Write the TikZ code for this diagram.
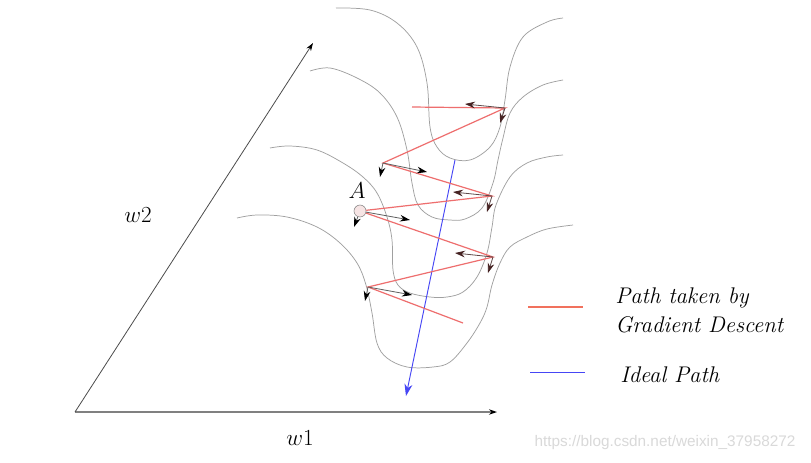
\documentclass[tikz,border=0pt]{standalone}
\usepackage{amsmath}
\usepackage{fontspec}
\newfontfamily\urlfont{Liberation Sans}
\usepackage{tikz}
\usetikzlibrary{arrows.meta}

\definecolor{levelgray}{RGB}{160,160,160}
\definecolor{gdred}{RGB}{238,110,110}
\definecolor{idealblue}{RGB}{70,70,245}
\definecolor{tipbrown}{RGB}{70,35,35}
\definecolor{pointpink}{RGB}{246,228,228}

\begin{document}
\begin{tikzpicture}[x=0.75pt,y=0.75pt,yscale=-1,xscale=1,
  levelcurve/.style={draw=levelgray, line width=0.55pt},
  gdpath/.style={draw=gdred, line width=0.9pt},
  idealpath/.style={draw=idealblue, line width=0.7pt},
  gradarr/.style={draw=gray!75!black, line width=0.6pt, -{Stealth[length=7.5pt,width=5pt,color=black]}},
  gradarrb/.style={draw=tipbrown!60!gray, line width=0.6pt, -{Stealth[length=7.5pt,width=5pt,color=tipbrown]}},
  lbl/.style={inner sep=0.75pt, font=\fontsize{17}{20}\selectfont\itshape}
]
%set diagram size
\path[fill=white] (0,0) rectangle (811,462);

%Axes
\coordinate (O) at (75,412);
\coordinate (w1end) at (497,412);
\coordinate (w2end) at (313,43);
\draw [draw=gray, line width=1pt, -{Stealth[length=6pt,width=4pt,color=black]}] (O) -- (w1end);
\draw [draw=gray!60!black, line width=0.6pt, -{Stealth[length=6pt,width=4pt,color=black]}] (O) -- (w2end);

%Level curves
\draw [levelcurve] plot[smooth, tension=0.6] coordinates {(336,8) (370,10) (397,23) (417,47) (427,83) (430,127) (437,147) (450,158) (470,160) (490,147) (500,127) (505,100) (510,67) (523,37) (547,22) (563,18)};
\draw [levelcurve] plot[smooth, tension=0.6] coordinates {(310,71) (330,68) (357,78) (380,93) (397,117) (407,150) (412,183) (418,205) (432,217) (450,220) (465,219) (482,208) (493,183) (498,160) (503,138) (510,113) (523,97) (543,85) (563,80)};
\draw [levelcurve] plot[smooth, tension=0.6] coordinates {(270,148) (290,146) (317,150) (343,163) (363,177) (377,193) (387,217) (392,240) (393,270) (398,285) (410,293) (430,297) (447,297) (463,292) (477,277) (487,253) (492,227) (496,205) (510,177) (527,163) (547,157) (563,155)};
\draw [levelcurve] plot[smooth, tension=0.6] coordinates {(237,218) (257,215) (287,217) (317,227) (340,243) (357,263) (366,285) (372,313) (377,343) (387,358) (407,367) (433,367) (450,362) (467,343) (480,323) (487,307) (492,285) (500,263) (510,247) (527,237) (547,229) (573,225)};

%Ideal path
\coordinate (idealtop) at (455,160);
\coordinate (idealbot) at (406,396);
\draw [idealpath, -{Stealth[length=9pt,width=6pt]}] (idealtop) -- (idealbot);

%Gradient descent path
\node [circle, draw=gray, fill=pointpink, minimum size=9pt, inner sep=0pt] (A) at (360,211) {};
\coordinate (g1) at (412,107);
\coordinate (g2) at (505,108);
\coordinate (g3) at (383,163);
\coordinate (g4) at (492,196);
\coordinate (g5) at (493,257);
\coordinate (g6) at (368,287);
\coordinate (g7) at (463,323);
\draw [gdpath] (g1) -- (g2) -- (g3) -- (g4) -- (A);
\draw [gdpath] (A) -- (g5) -- (g6) -- (g7);

%Gradient arrows
\coordinate (g2l) at (465,104);
\coordinate (g2d) at (500,123);
\coordinate (g3r) at (427,172);
\coordinate (g3d) at (380,177);
\coordinate (g4l) at (453,192);
\coordinate (g4d) at (487,212);
\coordinate (Ar) at (410,220);
\coordinate (Ad) at (354,227);
\coordinate (g5l) at (455,253);
\coordinate (g5d) at (488,273);
\coordinate (g6r) at (412,295);
\coordinate (g6d) at (365,301);
\draw [gradarrb] (g2) -- (g2l);
\draw [gradarrb] (g2) -- (g2d);
\draw [gradarr] (g3) -- (g3r);
\draw [gradarr] (g3) -- (g3d);
\draw [gradarrb] (g4) -- (g4l);
\draw [gradarrb] (g4) -- (g4d);
\draw [gradarr] (A) -- (Ar);
\draw [gradarr] (A) -- (Ad);
\draw [gradarrb] (g5) -- (g5l);
\draw [gradarrb] (g5) -- (g5d);
\draw [gradarr] (g6) -- (g6r);
\draw [gradarr] (g6) -- (g6d);

% Text Node
\node [lbl, font=\fontsize{19}{20}\selectfont] (Alabel) at (357,191) {$A$};
% Text Node
\node [lbl] (w2label) at (138,215) {$w2$};
% Text Node
\node [lbl] (w1label) at (300,438) {$w1$};

%Legend
\coordinate (legr1) at (528,307);
\coordinate (legr2) at (583,307);
\coordinate (legb1) at (530,372);
\coordinate (legb2) at (585,372);
\draw [draw=gdred!85!orange, line width=0.9pt] (legr1) -- (legr2);
\draw [idealpath] (legb1) -- (legb2);
% Text Node
\node [lbl, anchor=base west] (leggd1) at (614,303) {Path taken by};
% Text Node
\node [lbl, anchor=base west] (leggd2) at (614,332) {Gradient Descent};
% Text Node
\node [lbl, anchor=base west] (legideal) at (619,382) {Ideal Path};
% Text Node
\node [inner sep=0pt, text=gray!30, font=\urlfont\fontsize{11.5}{12}\selectfont] (wmark) at (665,443) {https://blog.csdn.net/weixin\_37958272};

\end{tikzpicture}
\end{document}
